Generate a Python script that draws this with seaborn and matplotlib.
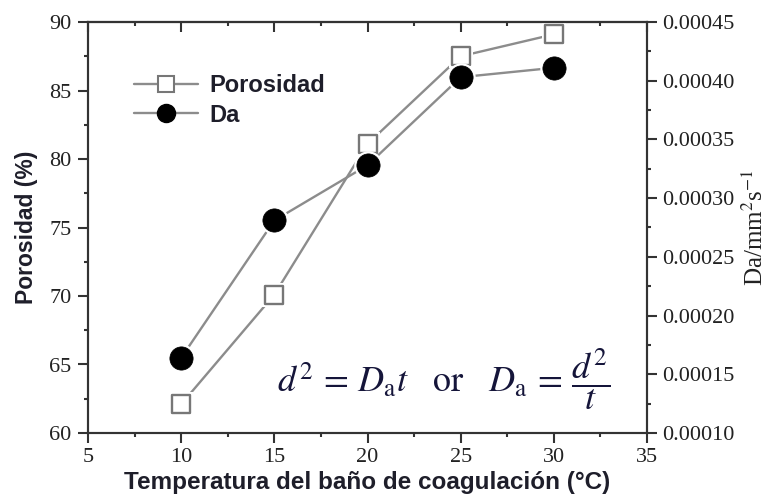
import matplotlib
matplotlib.use("Agg")
import matplotlib.pyplot as plt
from matplotlib.lines import Line2D
from matplotlib.ticker import MultipleLocator, FormatStrFormatter
import seaborn as sns
import pandas as pd

# Coagulation bath temperature (°C) and measured properties
temperatura = [10, 15, 20, 25, 30]
porosidad = [62.1, 70.1, 81.1, 87.5, 89.1]          # %
da = [0.000164, 0.000281, 0.000328, 0.000403, 0.000411]  # mm^2 s^-1

x_ticks = [5, 10, 15, 20, 25, 30, 35]
por_ticks = [60, 65, 70, 75, 80, 85, 90]
da_ticks = [0.00010, 0.00015, 0.00020, 0.00025, 0.00030, 0.00035, 0.00040, 0.00045]

sns.set_style("ticks")
plt.rcParams["font.family"] = ["Liberation Serif", "DejaVu Serif"]
plt.rcParams["mathtext.fontset"] = "stix"

df = pd.DataFrame({"T": temperatura, "Porosidad": porosidad, "Da": da})

W, H = 778, 499
fig = plt.figure(figsize=(W / 100, H / 100), dpi=100)
ax = fig.add_axes([88 / W, 1 - 433 / H, (647 - 88) / W, (433 - 22) / H])
ax2 = ax.twinx()

line_c = "#8c8c8c"
edge_c = "#777777"
spine_c = "#333333"
text_c = "#1e1e2a"

# Porosity series (left axis): line, white halo, open squares
sns.lineplot(data=df, x="T", y="Porosidad", ax=ax, color=line_c, lw=1.7, zorder=1)
sns.scatterplot(data=df, x="T", y="Porosidad", ax=ax, marker="s", s=290,
                color="white", linewidth=0, zorder=2)
sns.scatterplot(data=df, x="T", y="Porosidad", ax=ax, marker="s", s=180,
                facecolor="white", edgecolor=edge_c, linewidth=1.7, zorder=3)

# Da series (right axis): line, white halo, filled circles
sns.lineplot(data=df, x="T", y="Da", ax=ax2, color=line_c, lw=1.7, zorder=1)
sns.scatterplot(data=df, x="T", y="Da", ax=ax2, marker="o", s=420,
                color="white", linewidth=0, zorder=2)
sns.scatterplot(data=df, x="T", y="Da", ax=ax2, marker="o", s=280,
                color="black", edgecolor="black", linewidth=0.5, zorder=3)

# Axis ranges and ticks
ax.set_xlim(5, 35)
ax.set_ylim(60, 90)
ax2.set_ylim(0.0001, 0.00045)
ax.set_xticks(x_ticks)
ax.set_yticks(por_ticks)
ax2.set_yticks(da_ticks)
ax.xaxis.set_minor_locator(MultipleLocator(2.5))
ax.yaxis.set_minor_locator(MultipleLocator(2.5))
ax2.yaxis.set_minor_locator(MultipleLocator(0.000025))
ax2.yaxis.set_major_formatter(FormatStrFormatter("%.5f"))

tick_font = dict(labelsize=16, labelcolor="#222222", color=spine_c, width=1.5)
ax.tick_params(axis="x", which="major", direction="out", length=7, pad=4, top=False, **tick_font)
ax.tick_params(axis="x", which="minor", direction="out", length=3, width=1.5, color=spine_c, top=False)
ax.tick_params(axis="y", which="major", direction="out", length=7, pad=5, right=False, **tick_font)
ax.tick_params(axis="y", which="minor", direction="out", length=3, width=1.5, color=spine_c, right=False)
ax2.tick_params(axis="y", which="major", direction="out", length=7, pad=4, **tick_font)
ax2.tick_params(axis="y", which="minor", direction="out", length=3, width=1.5, color=spine_c)

# Inward ticks along the top edge
top = ax.secondary_xaxis("top")
top.set_xticks(x_ticks)
top.xaxis.set_minor_locator(MultipleLocator(2.5))
top.tick_params(axis="x", which="major", direction="in", length=7, width=1.5,
                color=spine_c, labeltop=False)
top.tick_params(axis="x", which="minor", direction="in", length=3, width=1.5, color=spine_c)
top.spines["top"].set_color(spine_c)
top.spines["top"].set_linewidth(1.5)

for a in (ax, ax2):
    for s in a.spines.values():
        s.set_color(spine_c)
        s.set_linewidth(1.5)

# Axis titles
ax.set_xlabel("Temperatura del baño de coagulación (°C)", family="Liberation Sans",
              fontsize=17.5, fontweight="bold", color=text_c, labelpad=3)
ax.set_ylabel("Porosidad (%)", family="Liberation Sans", fontsize=16.5,
              fontweight="bold", color=text_c, labelpad=8)
ax2.set_ylabel(r"Da/mm$^{2}$s$^{-1}$", family="Liberation Serif", fontsize=18,
               color="#222222", labelpad=6)

# Legend
handles = [
    Line2D([], [], color=line_c, lw=1.7, marker="s", markersize=11,
           markerfacecolor="white", markeredgecolor=edge_c, markeredgewidth=1.5),
    Line2D([], [], color=line_c, lw=1.7, marker="o", markersize=13,
           markerfacecolor="black", markeredgecolor="black"),
]
leg = ax2.legend(handles, ["Porosidad", "Da"], loc="upper left",
                 bbox_to_anchor=(0.044, 0.925), frameon=False,
                 prop=dict(family="Liberation Sans", size=17, weight="bold"),
                 handlelength=2.7, handletextpad=0.5, labelspacing=0.28,
                 borderpad=0.4)
for t in leg.get_texts():
    t.set_color(text_c)

# Diffusion relation
ax.text(24.1, 63.9,
        r"$d^2\,=\,D_{\mathrm{a}}t\quad\mathrm{or}\quad D_{\mathrm{a}}\,=\,\dfrac{d^2}{t}$",
        fontsize=26, color="#15153a", ha="center", va="center", zorder=5)

fig.savefig("out.png", dpi=100)
